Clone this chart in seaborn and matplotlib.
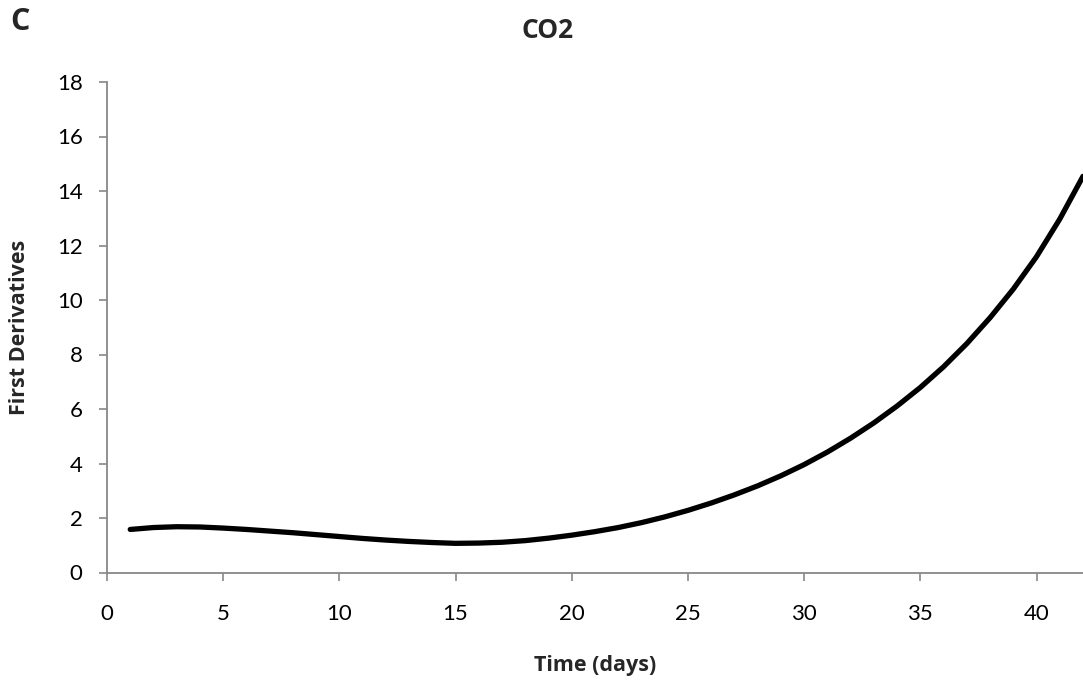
import numpy as np
import pandas as pd
import matplotlib
matplotlib.use("Agg")
import matplotlib.pyplot as plt
import seaborn as sns

days = list(range(1, 43))
first_derivatives = [
    1.58, 1.65, 1.68, 1.67, 1.63, 1.58, 1.52, 1.46, 1.39, 1.32,
    1.25, 1.19, 1.14, 1.10, 1.07, 1.08, 1.11, 1.17, 1.26, 1.37,
    1.50, 1.65, 1.83, 2.04, 2.28, 2.55, 2.85, 3.18, 3.55, 3.96,
    4.42, 4.93, 5.49, 6.11, 6.79, 7.55, 8.40, 9.35, 10.40, 11.59,
    12.97, 14.54,
]
x_ticks = [0, 5, 10, 15, 20, 25, 30, 35, 40]
y_ticks = [0, 2, 4, 6, 8, 10, 12, 14, 16, 18]

sns.set_theme(style="white")
plt.rcParams['font.family'] = ['Lato', 'DejaVu Sans']
BOLD = ['Open Sans', 'DejaVu Sans']

df = pd.DataFrame({"Time (days)": days, "First Derivatives": first_derivatives})

fig = plt.figure(figsize=(10.83, 6.83), dpi=100)
ax = fig.add_axes([107 / 1083, 1 - 572.5 / 683, 1 - 107 / 1083, (572.5 - 82) / 683])

sns.lineplot(data=df, x="Time (days)", y="First Derivatives", ax=ax,
             color="black", linewidth=3.8, solid_capstyle="round",
             solid_joinstyle="round")

ax.set_xlim(0, 42)
ax.set_ylim(0, 18)
ax.set_xticks(x_ticks)
ax.set_yticks(y_ticks)
ax.tick_params(axis="both", which="major", direction="out", length=5.5, width=1.2,
               color="#888888", labelsize=16, labelcolor="black", bottom=True, left=True)
ax.tick_params(axis="x", pad=17)
ax.tick_params(axis="y", pad=12)

for side in ["top", "right"]:
    ax.spines[side].set_visible(False)
for side in ["left", "bottom"]:
    ax.spines[side].set_color("#888888")
    ax.spines[side].set_linewidth(1.3)

ax.set_xlabel("Time (days)", fontsize=15.5, fontweight="bold", family=BOLD, va="center")
ax.set_ylabel("First Derivatives", fontsize=15.5, fontweight="bold", family=BOLD, va="center")
ax.xaxis.set_label_coords(0.5, (572.5 - 666) / 490.5)
ax.yaxis.set_label_coords((20 - 107) / 976, 0.5)
ax.grid(False)

fig.text(548 / 1083, 1 - 31 / 683, "CO2", ha="center", va="center",
         fontsize=19, fontweight="bold", family=BOLD)
fig.text(20 / 1083, 1 - 22 / 683, "C", ha="center", va="center",
         fontsize=22, fontweight="bold", family=BOLD)

fig.savefig("out.png", dpi=100)
